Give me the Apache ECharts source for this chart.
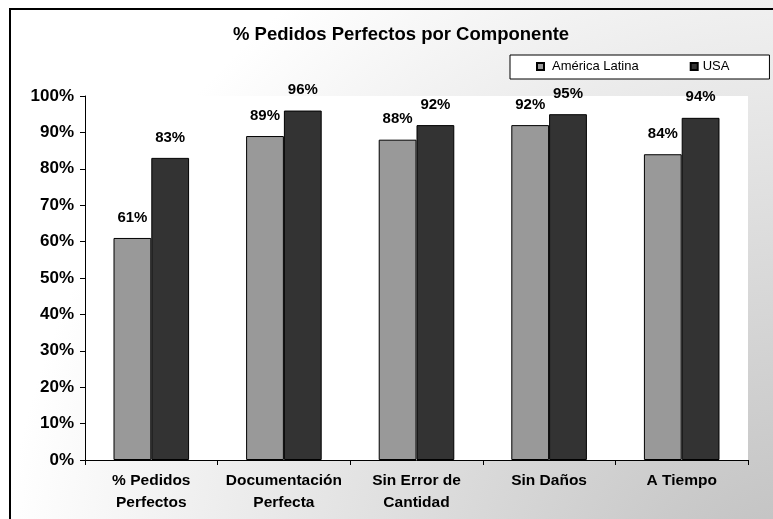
<!DOCTYPE html>
<html>
<head>
<meta charset="utf-8">
<title>% Pedidos Perfectos por Componente</title>
<script src="https://cdn.jsdelivr.net/npm/echarts@6/dist/echarts.min.js"></script>
<style>
  html, body { margin: 0; padding: 0; background: #ffffff; }
  #chart { width: 773px; height: 519px; }
</style>
</head>
<body>
<div id="chart"></div>
<script>
// Perfect-order percentage by component, Latin America vs USA
const categories = ['% Pedidos\nPerfectos', 'Documentación\nPerfecta', 'Sin Error de\nCantidad', 'Sin Daños', 'A Tiempo'];
const seriesNames = ['América Latina', 'USA'];
const latamValues = [61, 89, 88, 92, 84];
const usaValues = [83, 96, 92, 95, 94];
const yTicks = { min: 0, max: 100, interval: 10 };

const FONT = 'Arial, "Liberation Sans", sans-serif';

const chart = echarts.init(document.getElementById('chart'), null, { renderer: 'canvas' });

const barLabel = {
  show: true,
  position: 'top',
  distance: 13,
  formatter: '{c}%',
  color: '#000',
  fontFamily: FONT,
  fontWeight: 'bold',
  fontSize: 15
};

chart.setOption({
  animation: false,
  backgroundColor: '#ffffff',
  graphic: [
    {
      // chart-area shading, light in the upper left, darker toward the lower right
      type: 'rect',
      z: -20,
      silent: true,
      shape: { x: 0, y: 0, width: 773, height: 519 },
      style: {
        fill: new echarts.graphic.RadialGradient(800, 620, 800, [
          { offset: 0, color: '#bcbcbc' },
          { offset: 1, color: '#ffffff' }
        ], true)
      }
    },
    {
      // chart-area frame
      type: 'rect',
      z: 50,
      silent: true,
      shape: { x: 10, y: 9, width: 900, height: 700 },
      style: { fill: 'none', stroke: '#000', lineWidth: 2 }
    }
  ],
  title: {
    text: '% Pedidos Perfectos por Componente',
    left: 228,
    top: 20,
    textStyle: { fontFamily: FONT, fontWeight: 'bold', fontSize: 18.5, color: '#000' }
  },
  legend: {
    data: [
      { name: seriesNames[0] },
      { name: seriesNames[1], textStyle: { padding: [0, 0, 0, 0] } }
    ],
    left: 510,
    top: 55,
    orient: 'horizontal',
    icon: 'rect',
    itemWidth: 7,
    itemHeight: 7,
    itemGap: 51,
    padding: [5, 40, 6, 26],
    backgroundColor: '#ffffff',
    borderColor: '#000',
    borderWidth: 1,
    textStyle: { fontFamily: FONT, fontSize: 13, color: '#000', padding: [0, 0, 0, 3] }
  },
  grid: {
    left: 85,
    right: 25,
    top: 96,
    bottom: 59,
    show: true,
    backgroundColor: '#ffffff',
    borderWidth: 0
  },
  xAxis: {
    type: 'category',
    data: categories,
    axisLine: { show: true, lineStyle: { color: '#000', width: 1 } },
    axisTick: { show: true, length: 5, lineStyle: { color: '#000' } },
    axisLabel: {
      color: '#000',
      fontFamily: FONT,
      fontWeight: 'bold',
      fontSize: 15.5,
      lineHeight: 22,
      margin: 10,
      interval: 0
    }
  },
  yAxis: {
    type: 'value',
    min: yTicks.min,
    max: yTicks.max,
    interval: yTicks.interval,
    splitLine: { show: false },
    axisLine: { show: true, lineStyle: { color: '#000', width: 1 } },
    axisTick: { show: true, length: 5, lineStyle: { color: '#000' } },
    axisLabel: {
      formatter: '{value}%',
      color: '#000',
      fontFamily: FONT,
      fontWeight: 'bold',
      fontSize: 17,
      margin: 11
    }
  },
  series: [
    {
      name: seriesNames[0],
      type: 'bar',
      data: latamValues,
      barGap: '0%',
      barCategoryGap: '43%',
      itemStyle: { color: '#999999', borderColor: '#000', borderWidth: 1 },
      label: barLabel
    },
    {
      name: seriesNames[1],
      type: 'bar',
      data: usaValues,
      barGap: '0%',
      barCategoryGap: '43%',
      itemStyle: { color: '#333333', borderColor: '#000', borderWidth: 1 },
      label: barLabel
    }
  ]
});
</script>
</body>
</html>
